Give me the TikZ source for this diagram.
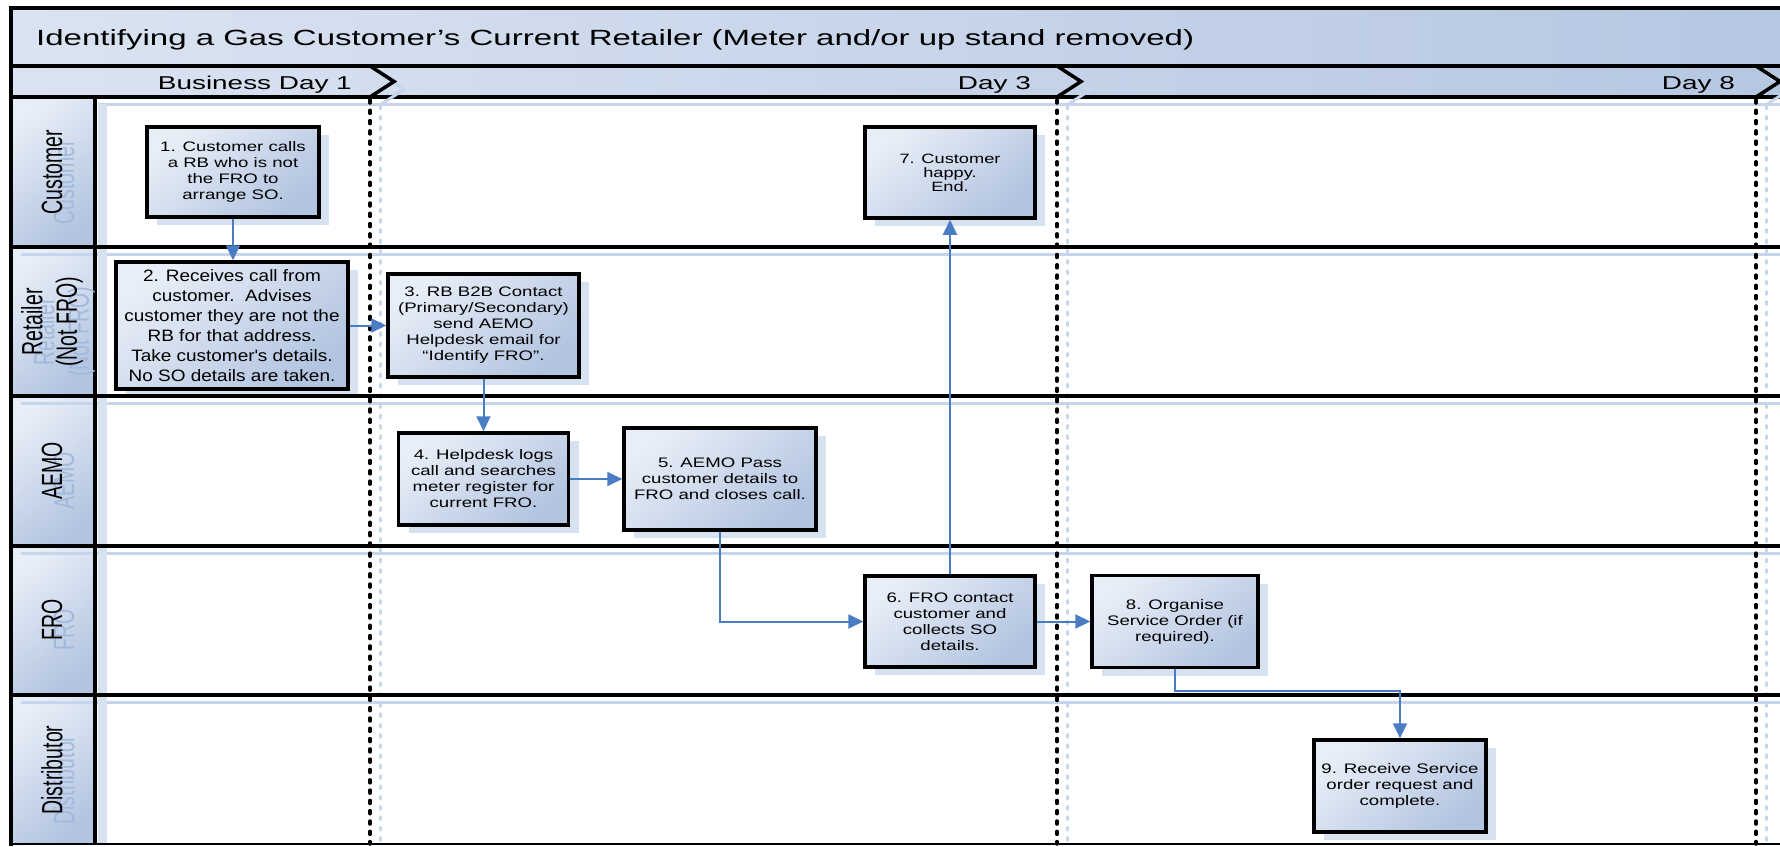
\documentclass[tikz,border=0pt]{standalone}
\usepackage{fontspec}
\setmainfont{Liberation Sans}
\newfontfamily\bandfont[FakeStretch=1.5]{Liberation Sans}
\newfontfamily\boxfont[FakeStretch=1.35]{Liberation Sans}
\newfontfamily\bigboxfont[FakeStretch=1.15]{Liberation Sans}
\usetikzlibrary{positioning}
\usetikzlibrary{arrows.meta}
\usetikzlibrary{shadows}

\definecolor{boxlight}{HTML}{E8EEF7}
\definecolor{boxdark}{HTML}{B2C4E0}
\definecolor{bandlight}{HTML}{DAE3F1}
\definecolor{banddark}{HTML}{B6C7E2}
\definecolor{shadowblue}{HTML}{D7E2F1}
\definecolor{stripblue}{HTML}{C6D5EB}
\definecolor{ghostblue}{HTML}{A3B9DB}
\definecolor{flowblue}{HTML}{4A7CC4}

\tikzset{
  procbox/.style={draw=black, line width=3.5pt, top color=boxlight, bottom color=boxdark, shading angle=40,
    drop shadow={shadow xshift=10pt, shadow yshift=-8pt, fill=shadowblue, opacity=1},
    align=center, inner sep=1pt, font=\boxfont\fontsize{13.8}{16}\selectfont},
  flow/.style={flowblue, line width=2pt, line join=miter, -{Triangle[length=15pt,width=14pt]}},
  lane/.style={rotate=90, yscale=1.5, align=center, font=\fontsize{19.5}{23}\selectfont},
  lanetext/.style={lane, text=black},
  laneghost/.style={lane, text=ghostblue},
  dayline/.style={black, line width=3.5pt, line cap=round, dash pattern=on 3pt off 7.3pt},
  daylineghost/.style={stripblue, line width=3pt, line cap=round, dash pattern=on 3pt off 7.3pt},
  daylabel/.style={anchor=base east, inner sep=0pt, font=\bandfont\fontsize{18.6}{22}\selectfont}
}

\begin{document}
\begin{tikzpicture}[x=1pt,y=-1pt]
\useasboundingbox (0,0) rectangle (1780,846);
\fill[white] (0,0) rectangle (1780,846);

% bands
\shade[left color=bandlight, right color=banddark] (11,8) rectangle (1780,66);
\shade[left color=bandlight, right color=banddark] (11,66) rectangle (1780,97);

% lane headers
\foreach \ya/\yb in {97/247,247/396,396/546,546/695,695/844}
  \shade[top color=boxlight, bottom color=boxdark, shading angle=40] (11,\ya) rectangle (95,\yb);

% lane shadows
\draw[stripblue, line width=3pt] (98,104) -- (1780,104);
\foreach \y in {254,403,553,702}
  \draw[stripblue, line width=3pt] (21,\y) -- (1780,\y);
\fill[shadowblue] (98,104) rectangle (107,844);

% day dividers
\foreach \x in {370,1057,1756} {
  \draw[daylineghost] (\x+10,106) -- (\x+10,844);
  \draw[dayline] (\x,100) -- (\x,844);
}

% frame
\draw[line width=3.5pt] (11,66) -- (1780,66);
\draw[line width=3.5pt] (11,97) -- (1780,97);
\draw[line width=4pt] (95,97) -- (95,844);
\draw[line width=2.5pt] (11,844) -- (1780,844);
\draw[line width=4pt] (1780,8) -- (11,8) -- (11,846);

% chevrons
\foreach \x in {370,1057,1756} {
  \draw[stripblue, line width=3pt] (\x+10,74) -- (\x+34,89.5) -- (\x+10,105);
  \draw[line width=3.5pt, line join=miter] (\x,66) -- (\x+24,81.5) -- (\x,97);
}

% title and days
\node[anchor=base west, inner sep=0pt, font=\bandfont\fontsize{22}{26}\selectfont] (title) at (36,45)
  {Identifying a Gas Customer’s Current Retailer (Meter and/or up stand removed)};
\node[daylabel] (day1) at (352,89.5) {Business Day 1};
\node[daylabel] (day3) at (1031,89.5) {Day 3};
\node[daylabel] (day8) at (1735,89.5) {Day 8};

% lane labels
\node[laneghost] (gcust) at (64,182) {Customer};
\node[lanetext] (lcust) at (52,172) {Customer};
\node[laneghost] (gret) at (64,332) {Retailer\\(Not FRO)};
\node[lanetext] (lret) at (52,322) {Retailer\\(Not FRO)};
\node[laneghost] (gaemo) at (64,481) {AEMO};
\node[lanetext] (laemo) at (52,471) {AEMO};
\node[laneghost] (gfro) at (64,630) {FRO};
\node[lanetext] (lfro) at (52,620) {FRO};
\node[laneghost] (gdist) at (64,780) {Distributor};
\node[lanetext] (ldist) at (52,770) {Distributor};

% steps
\node[procbox, minimum width=172pt, minimum height=90pt] (s1) at (233,172)
  {1. Customer calls\\a RB who is not\\the FRO to\\arrange SO.};
\node[procbox, minimum width=232pt, minimum height=127pt, font=\bigboxfont\fontsize{16.5}{20}\selectfont] (s2) at (232,325.5)
  {2. Receives call from\\customer.~~Advises\\customer they are not the\\RB for that address.\\Take customer\textquotesingle s details.\\No SO details are taken.};
\node[procbox, minimum width=191pt, minimum height=103pt] (s3) at (483.5,325.5)
  {3. RB B2B Contact\\(Primary/Secondary)\\send AEMO\\Helpdesk email for\\“Identify FRO”.};
\node[procbox, minimum width=170pt, minimum height=92pt] (s4) at (483.5,479)
  {4. Helpdesk logs\\call and searches\\meter register for\\current FRO.};
\node[procbox, minimum width=192pt, minimum height=102pt] (s5) at (720,479)
  {5. AEMO Pass\\customer details to\\FRO and closes call.};
\node[procbox, minimum width=170pt, minimum height=91pt] (s6) at (950,621.5)
  {6. FRO contact\\customer and\\collects SO\\details.};
\node[procbox, minimum width=170pt, minimum height=91pt, font=\boxfont\fontsize{13.5}{14}\selectfont] (s7) at (950,172.5)
  {7. Customer\\happy.\\End.};
\node[procbox, minimum width=166pt, minimum height=92pt] (s8) at (1175,621.5)
  {8. Organise\\Service Order (if\\required).};
\node[procbox, minimum width=172pt, minimum height=92pt] (s9) at (1400,786)
  {9. Receive Service\\order request and\\complete.};

% lane separators
\foreach \y in {247,396,546,695}
  \draw[line width=4pt] (11,\y) -- (1780,\y);

% flows
\draw[flow] (s1.south) -- (s1.south |- s2.north);
\draw[flow] (s2.east |- s3.west) -- (s3.west);
\draw[flow] (s3.south) -- (s3.south |- s4.north);
\draw[flow] (s4.east) -- (s5.west);
\draw[flow] (s5.south) |- (s6.west);
\draw[flow] (s6.north) -- (s6.north |- s7.south);
\draw[flow] (s6.east) -- (s8.west);
\draw[flow] (s8.south) -- ++(0,22) -| (s9.north);

\end{tikzpicture}
\end{document}
